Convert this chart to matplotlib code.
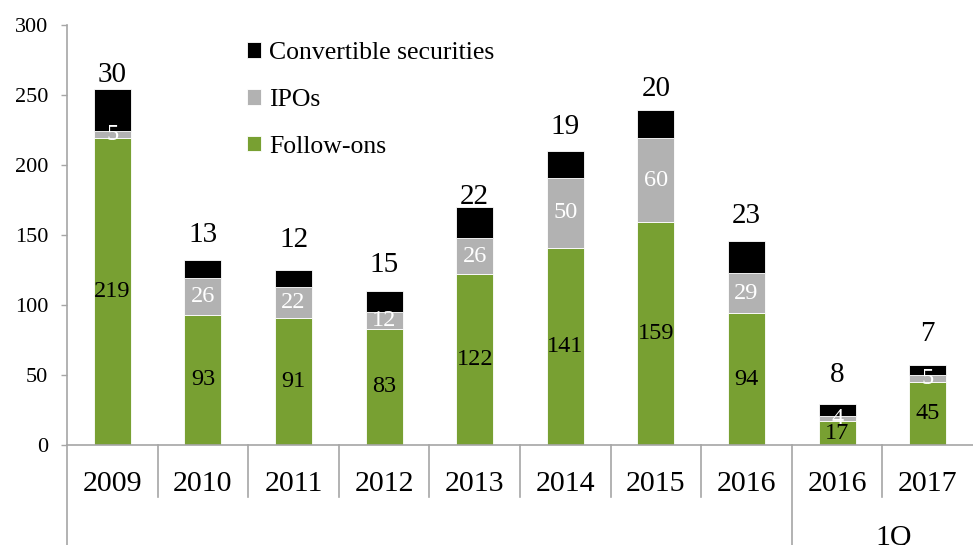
import numpy as np
import matplotlib
matplotlib.use("Agg")
import matplotlib.pyplot as plt

plt.rcParams['font.family'] = ['Liberation Serif', 'DejaVu Serif']

# Equity issuance by type
years = ['2009', '2010', '2011', '2012', '2013', '2014', '2015', '2016', '2016', '2017']
follow_ons = [219, 93, 91, 83, 122, 141, 159, 94, 17, 45]
ipos = [5, 26, 22, 12, 26, 50, 60, 29, 4, 5]
convertibles = [30, 13, 12, 15, 22, 19, 20, 23, 8, 7]

# gap (px) between bar top and the convertibles label
label_gap = [7, 18, 23, 19, 3, 17, 14, 18, 22, 24]

green = '#78A032'
grey = '#B2B2B2'
axis_grey = '#A6A6A6'

fig = plt.figure(figsize=(9.73, 5.45), dpi=100)
ax = fig.add_axes([67 / 973, 100 / 545, 906 / 973, 420 / 545])

x = np.arange(len(years))
fo = np.array(follow_ons)
ip = np.array(ipos)
cv = np.array(convertibles)
w = 0.41

b1 = ax.bar(x, fo, w, color=green, edgecolor='white', linewidth=0.6, label='Follow-ons')
b2 = ax.bar(x, ip, w, bottom=fo, color=grey, edgecolor='white', linewidth=0.6, label='IPOs')
b3 = ax.bar(x, cv, w, bottom=fo + ip, color='black', edgecolor='white', linewidth=0.6,
            label='Convertible securities')

for i in range(len(x)):
    ax.text(x[i], fo[i] / 2, str(fo[i]), ha='center', va='center', fontsize=17.5, color='black')
    ax.text(x[i], fo[i] + ip[i] / 2, str(ip[i]), ha='center', va='center', fontsize=17.5, color='white')
    ax.annotate(str(cv[i]), (x[i], fo[i] + ip[i] + cv[i]), xytext=(0, label_gap[i] * 0.72),
                textcoords='offset points', ha='center', va='baseline', fontsize=21)

ax.set_xlim(-0.5, len(years) - 0.5)
ax.set_ylim(0, 300)
ax.set_yticks(range(0, 301, 50))
ax.tick_params(axis='y', direction='out', length=4.5, width=1, color=axis_grey, labelsize=16, pad=9)
ax.set_xticks(x)
ax.set_xticklabels(years)
ax.tick_params(axis='x', length=0, labelsize=21.5, pad=18.5)

for s in ['top', 'right']:
    ax.spines[s].set_visible(False)
for s in ['left', 'bottom']:
    ax.spines[s].set_color(axis_grey)
    ax.spines[s].set_linewidth(1.2)

# category separators under the axis
short = -52 / 420
long = -100 / 420
for k in range(len(years)):
    bottom = long if k in (0, 8) else short
    ax.plot([k - 0.5, k - 0.5], [0, bottom], color=axis_grey, lw=1.2, clip_on=False,
            transform=ax.get_xaxis_transform())
ax.text(8.62, -0.221, '1Q', ha='center', va='center', fontsize=21.5,
        transform=ax.get_xaxis_transform())

handles = [b3, b2, b1]
fig.legend(handles, [h.get_label() for h in handles], loc='upper left',
           bbox_to_anchor=(247 / 973, 1 - 42 / 545), frameon=False, fontsize=18.5,
           handlelength=0.55, handleheight=0.55, handletextpad=0.3, labelspacing=0.97,
           borderpad=0, borderaxespad=0)

fig.savefig('out.png', dpi=100)
